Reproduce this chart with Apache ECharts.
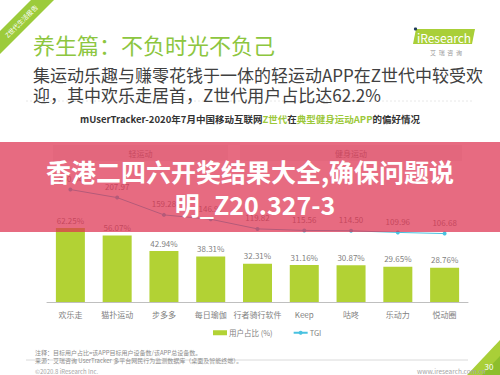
<!DOCTYPE html>
<html>
<head>
<meta charset="utf-8">
<script src="https://cdn.jsdelivr.net/npm/echarts@6/dist/echarts.min.js"></script>
<style>
  html, body { margin: 0; padding: 0; background: #fff; }
  #main { width: 500px; height: 375px; }
</style>
</head>
<body>
<div id="main"></div>
<script>
var categories = ['欢乐走', '猫扑运动', '步多多', '每日瑜伽', '行者骑行软件', 'Keep', '咕咚', '乐动力', '悦动圈'];
var userShare = [62.25, 56.07, 42.94, 38.31, 32.31, 31.16, 30.87, 29.65, 28.76];
var tgiValues = [230.64, 207.97, 159.28, 146.97, 119.82, 115.56, 114.50, 109.96, 106.68];
var groupNames = ['轻运动', '健身运动'];
var groupFirst = [0, 4];
var groupLast = [3, 8];

(function () {
  var barGreen = '#B2D234';
  var tgiColor = '#49C2E0';
  var gray = '#7f7f7f';
  var font = '"Noto Sans CJK SC", "Noto Sans", sans-serif';

  var chart = echarts.init(document.getElementById('main'), null, { renderer: 'svg' });
  var option = {
    animation: false,
    backgroundColor: '#fff',
    textStyle: { fontFamily: font },
    title: [
      { text: '养生篇：不负时光不负己', left: 28, top: 28, textStyle: { color: '#8DC63F', fontSize: 22, fontWeight: 'normal', fontFamily: font } },
      { text: '集运动乐趣与赚零花钱于一体的轻运动APP在Z世代中较受欢', left: 28, top: 61, textStyle: { color: '#404040', fontSize: 17, fontWeight: 'normal', fontFamily: font } },
      { text: '迎，其中欢乐走居首，Z世代用户占比达62.2%', left: 28, top: 81, textStyle: { color: '#404040', fontSize: 17, fontWeight: 'normal', fontFamily: font } },
      {
        text: '{k|mUserTracker-2020年7月中国移动互联网}{g|Z世代}{k|在}{g|典型健身运动APP}{k|的偏好情况}',
        left: 'center', top: 109,
        textStyle: {
          rich: {
            k: { color: '#333', fontSize: 9.5, fontWeight: 'bold', fontFamily: font },
            g: { color: '#9CC83A', fontSize: 9.5, fontWeight: 'bold', fontFamily: font }
          }
        }
      },
      { text: '注释：目标用户占比=该APP目标用户设备数/该APP总设备数。', left: 30, top: 344, textStyle: { color: '#8c8c8c', fontSize: 6, fontWeight: 'normal', fontFamily: font } },
      { text: '来源：艾瑞咨询 UserTracker 多平台网民行为监测数据库（桌面及智能终端）。', left: 30, top: 352, textStyle: { color: '#8c8c8c', fontSize: 6, fontWeight: 'normal', fontFamily: font } },
      { text: '©2020.8 iResearch Inc.', left: 30, top: 363, textStyle: { color: '#a6a6a6', fontSize: 6, fontWeight: 'normal', fontFamily: font } },
      { text: 'www.iresearch.com.cn', left: 412, top: 363, textStyle: { color: '#a6a6a6', fontSize: 6.5, fontWeight: 'normal', fontFamily: font } }
    ],
    legend: {
      left: 208, top: 324,
      itemWidth: 14, itemHeight: 5, itemGap: 20,
      textStyle: { color: gray, fontSize: 7.5, fontFamily: font, padding: [0, 0, 0, -3] },
      data: [{ name: '用户占比 (%)', icon: 'rect' }, { name: 'TGI' }]
    },
    grid: { left: 47, right: 32, top: 150, bottom: 73 },
    xAxis: {
      type: 'category',
      data: categories,
      axisLine: { lineStyle: { color: '#bfbfbf' } },
      axisTick: { show: false },
      axisLabel: { color: gray, fontSize: 8, margin: 8, interval: 0 }
    },
    yAxis: [
      { type: 'value', min: 0, max: 128, show: false },
      { type: 'value', min: -86, max: 342, show: false }
    ],
    series: [
      {
        name: '用户占比 (%)',
        type: 'bar',
        data: userShare,
        barWidth: 29,
        itemStyle: { color: barGreen },
        label: { show: true, position: 'top', distance: 4, color: gray, fontSize: 8, formatter: function (p) { return p.value.toFixed(2) + '%'; } }
      },
      {
        name: 'TGI',
        type: 'line',
        yAxisIndex: 1,
        data: tgiValues,
        symbol: 'circle',
        symbolSize: 4,
        lineStyle: { color: tgiColor, width: 1 },
        itemStyle: { color: tgiColor },
        label: { show: true, position: 'top', distance: 5, color: gray, fontSize: 8, formatter: function (p) { return p.value.toFixed(2); } }
      }
    ]
  };
  chart.setOption(option);

  // group header boxes, placed from the category axis
  var half = 23.4;
  var graphics = [];
  for (var i = 0; i < groupNames.length; i++) {
    var x0 = chart.convertToPixel({ xAxisIndex: 0 }, categories[groupFirst[i]]) - half + 6;
    var x1 = chart.convertToPixel({ xAxisIndex: 0 }, categories[groupLast[i]]) + half - 6;
    graphics.push({ type: 'rect', shape: { x: x0, y: 145, width: x1 - x0, height: 16 }, style: { fill: '#efefef' }, z: 1 });
    graphics.push({ type: 'text', x: (x0 + x1) / 2, y: 153, style: { text: groupNames[i], fill: '#8a8a8a', fontSize: 8, fontFamily: font, textAlign: 'center', textVerticalAlign: 'middle', align: 'center', verticalAlign: 'middle' }, z: 1 });
  }

  // faint rule under subtitle
  graphics.push({ type: 'line', shape: { x1: 26, y1: 101, x2: 472, y2: 101 }, style: { stroke: '#e8e8e8', lineWidth: 1, lineDash: [2, 2] } });
  // footer rule
  graphics.push({ type: 'line', shape: { x1: 26, y1: 360, x2: 468, y2: 360 }, style: { stroke: '#d0d0d0', lineWidth: 0.8 } });

  // top-left badge
  graphics.push({ type: 'polygon', shape: { points: [[31, 0], [54, 0], [0, 54], [0, 31]] }, style: { fill: '#9CCB3B' } });
  graphics.push({ type: 'text', x: 21, y: 21, rotation: Math.PI / 4, style: { text: 'Z世代生活报告', fill: '#fff', fontSize: 6.5, fontFamily: font, textAlign: 'center', textVerticalAlign: 'middle', align: 'center', verticalAlign: 'middle' } });

  // iResearch logo
  graphics.push({ type: 'polygon', shape: { points: [[416, 29], [475, 29], [472, 44], [413, 44]] }, style: { fill: '#A9CF38' } });
  graphics.push({ type: 'text', x: 444, y: 37, style: { text: 'iResearch', fill: '#fff', fontSize: 12, fontFamily: font, textAlign: 'center', textVerticalAlign: 'middle', align: 'center', verticalAlign: 'middle' } });
  graphics.push({ type: 'circle', shape: { cx: 415.5, cy: 29, r: 1.6 }, style: { fill: '#1f3b5a' } });
  graphics.push({ type: 'text', x: 446, y: 52, style: { text: '艾  瑞  咨  询', fill: '#9a9a9a', fontSize: 6, fontFamily: font, textAlign: 'center', textVerticalAlign: 'middle', align: 'center', verticalAlign: 'middle' } });

  // bottom-right page corner
  graphics.push({ type: 'polygon', shape: { points: [[467, 375], [500, 340], [500, 375]] }, style: { fill: '#A9CF38' } });
  graphics.push({ type: 'polygon', shape: { points: [[482, 375], [500, 356], [500, 375]] }, style: { fill: '#8DBE2C' } });
  graphics.push({ type: 'text', x: 489, y: 366, style: { text: '30', fill: '#fff', fontSize: 8, fontFamily: font, textAlign: 'center', textVerticalAlign: 'middle', align: 'center', verticalAlign: 'middle' } });

  // red overlay band with white caption
  graphics.push({ type: 'rect', shape: { x: 0, y: 142, width: 500, height: 90 }, style: { fill: 'rgba(222, 50, 80, 0.72)' }, z: 100 });
  graphics.push({ type: 'text', x: 250, y: 171, style: { text: '香港二四六开奖结果大全,确保问题说', fill: '#fff', fontSize: 25, fontWeight: 'bold', fontFamily: font, textAlign: 'center', textVerticalAlign: 'middle', align: 'center', verticalAlign: 'middle' }, z: 101 });
  graphics.push({ type: 'text', x: 255, y: 204, style: { text: '明_Z20.327-3', fill: '#fff', fontSize: 25, fontWeight: 'bold', fontFamily: font, textAlign: 'center', textVerticalAlign: 'middle', align: 'center', verticalAlign: 'middle' }, z: 101 });

  chart.setOption({ graphic: graphics });
})();
</script>
</body>
</html>
